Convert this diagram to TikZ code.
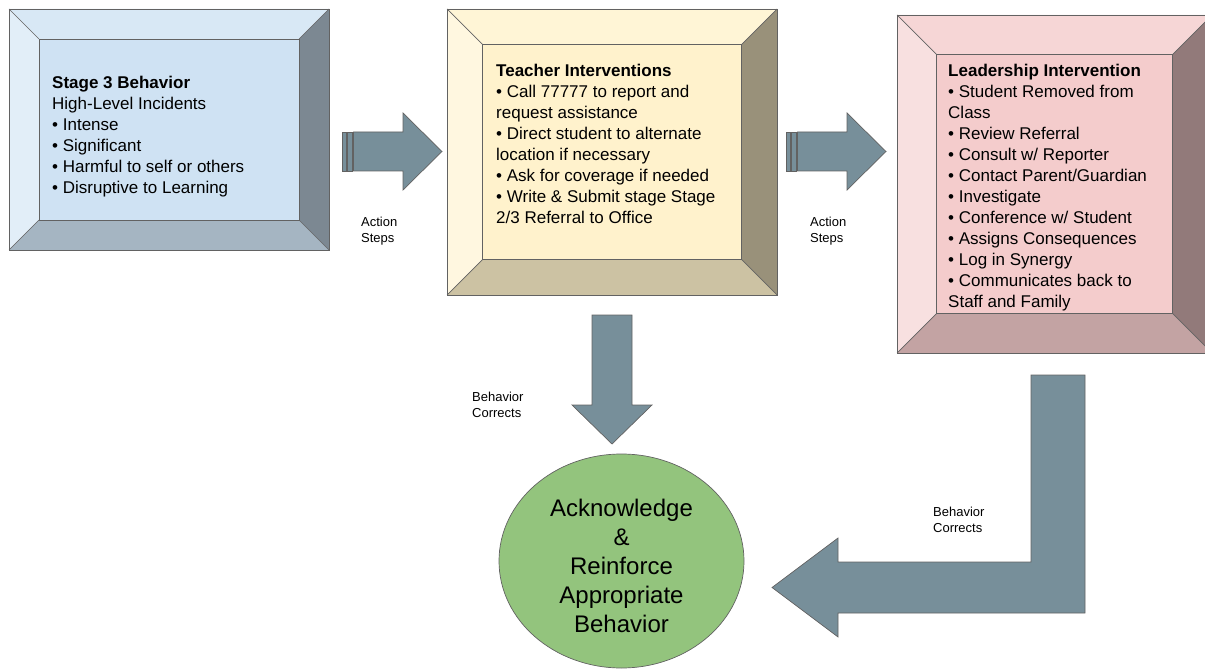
\documentclass[tikz,border=0pt]{standalone}
\usepackage{fontspec}
\setmainfont{Liberation Sans}
\usepackage{tikz}
\usetikzlibrary{shapes.geometric}
\definecolor{stageblue}{HTML}{CFE2F3}
\definecolor{teachyellow}{HTML}{FFF2CC}
\definecolor{leadpink}{HTML}{F4CCCC}
\definecolor{ackgreen}{HTML}{93C47D}
\definecolor{arrowgray}{HTML}{778F9A}
\definecolor{edgegray}{HTML}{626262}

\begin{document}
\begin{tikzpicture}[x=1pt,y=1pt]
\tikzstyle{every node}+=[inner sep=0pt]
\tikzstyle{boxtext}=[anchor=north west, align=left, font=\fontsize{17}{21}\selectfont]
\tikzstyle{smalltext}=[anchor=west, align=left, font=\fontsize{13}{16}\selectfont]
\tikzstyle{blockarrow}=[fill=arrowgray, draw=edgegray, line width=0.7pt]
\clip (0,0) rectangle (1205,-671);
% bevelled boxes
\foreach \xa/\ya/\xb/\yb/\d/\col in {9/-9/329/-250/30/stageblue, 447/-9/777/-295/35.7/teachyellow, 897/-15/1212/-353/39.4/leadpink} {
  \fill [\col!80!white] (\xa,\ya) -- (\xb,\ya) -- (\xb-\d,\ya-\d) -- (\xa+\d,\ya-\d) -- cycle;
  \fill [\col!60!white] (\xa,\ya) -- (\xa+\d,\ya-\d) -- (\xa+\d,\yb+\d) -- (\xa,\yb) -- cycle;
  \fill [\col!60!black] (\xb,\ya) -- (\xb-\d,\ya-\d) -- (\xb-\d,\yb+\d) -- (\xb,\yb) -- cycle;
  \fill [\col!80!black] (\xa,\yb) -- (\xa+\d,\yb+\d) -- (\xb-\d,\yb+\d) -- (\xb,\yb) -- cycle;
  \fill [\col] (\xa+\d,\ya-\d) rectangle (\xb-\d,\yb+\d);
  \draw [edgegray, line width=0.7pt] (\xa,\ya) rectangle (\xb,\yb);
  \draw [edgegray, line width=0.7pt] (\xa+\d,\ya-\d) rectangle (\xb-\d,\yb+\d);
  \draw [edgegray, line width=0.7pt] (\xa,\ya) -- (\xa+\d,\ya-\d) (\xb,\ya) -- (\xb-\d,\ya-\d)
    (\xa,\yb) -- (\xa+\d,\yb+\d) (\xb,\yb) -- (\xb-\d,\yb+\d);
}
\node [boxtext] (stage) at (52,-75.5) {\textbf{Stage 3 Behavior}\\High-Level Incidents\\• Intense\\• Significant\\• Harmful to self or others\\• Disruptive to Learning};
\node [boxtext] (teacher) at (496,-63.5) {\textbf{Teacher Interventions}\\• Call 77777 to report and\\request assistance\\• Direct student to alternate\\location if necessary\\• Ask for coverage if needed\\• Write \& Submit stage Stage\\2/3 Referral to Office};
\node [boxtext] (leader) at (948,-63.5) {\textbf{Leadership Intervention}\\• Student Removed from\\Class\\• Review Referral\\• Consult w/ Reporter\\• Contact Parent/Guardian\\• Investigate\\• Conference w/ Student\\• Assigns Consequences\\• Log in Synergy\\• Communicates back to\\Staff and Family};
% striped arrows
\foreach \sx in {0,444} {
  \begin{scope}[xshift=\sx]
  \draw [blockarrow] (342,-132) rectangle (346,-171);
  \draw [blockarrow] (347.5,-132) rectangle (352,-171);
  \draw [blockarrow] (353.5,-132) -- (403,-132) -- (403,-113) -- (442,-151.5) -- (403,-190) -- (403,-171) -- (353.5,-171) -- cycle;
  \end{scope}
}
\node [smalltext] (stepsA) at (361,-231) {Action\\Steps};
\node [smalltext] (stepsB) at (810,-231) {Action\\Steps};
% down arrow and bent arrow
\draw [blockarrow] (592,-315) -- (632,-315) -- (632,-405) -- (652,-405) -- (612,-444) -- (572,-405) -- (592,-405) -- cycle;
\draw [blockarrow] (1031,-375) -- (1085,-375) -- (1085,-613) -- (838,-613) -- (838,-637) -- (772,-587.5) -- (838,-538) -- (838,-562) -- (1031,-562) -- cycle;
\node [smalltext] (correctsA) at (472,-405) {Behavior\\Corrects};
\node [smalltext] (correctsB) at (933,-520) {Behavior\\Corrects};
\node [ellipse, draw=edgegray, fill=ackgreen, line width=0.7pt, minimum width=245pt, minimum height=214pt] (ack) at (621.5,-561) {};
\node [align=center, font=\fontsize{24}{29}\selectfont] (acktext) at (621.5,-566) {Acknowledge\\\&\\Reinforce\\Appropriate\\Behavior};
\end{tikzpicture}
\end{document}
